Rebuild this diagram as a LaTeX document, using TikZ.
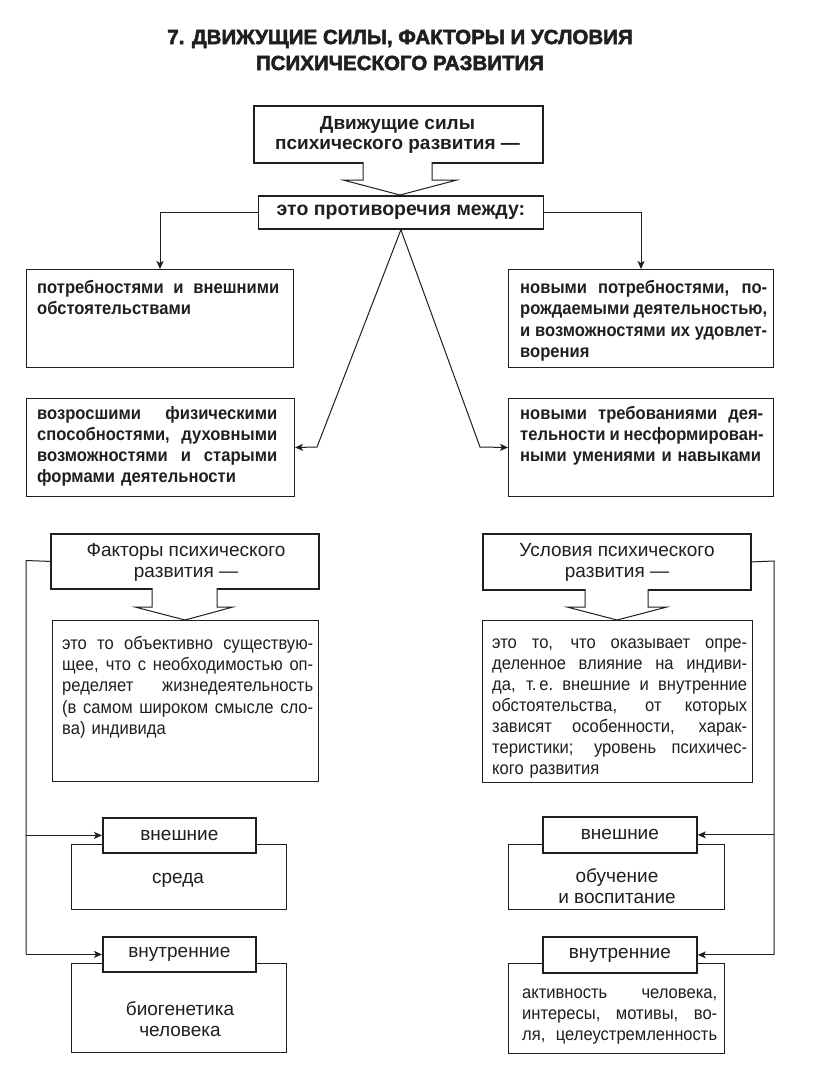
\documentclass[tikz,border=0pt]{standalone}
\usepackage{fontspec}
\setmainfont{Liberation Sans}
\newfontfamily\condfont{Liberation Sans}[FakeStretch=0.92]
\newfontfamily\heavyfont{Liberation Sans Bold}[FakeBold=2.5]
\usetikzlibrary{arrows.meta}
\colorlet{ink}{black!88}
\newcommand\jlbox[1]{\leavevmode\hbox to \hsize{\spaceskip=0.27em plus 1fil minus 0.05em\xspaceskip=\spaceskip #1}}
\newcommand\jl[1]{\jlbox{#1}\\}
\tikzset{
  box/.style={draw=ink, line width=1pt, fill=white, rectangle, inner sep=0pt, anchor=north west},
  hbox/.style={box, line width=1.8pt},
  txt/.style={inner sep=0pt, anchor=north west, align=left, text=ink,
    font=\condfont\fontsize{18}{21.3}\selectfont, execute at begin node=\strut},
  btxtl/.style={txt, font=\condfont\fontsize{18}{21.5}\selectfont\bfseries},
  ctxt/.style={inner sep=0pt, align=center, text=ink, font=\fontsize{19}{21}\selectfont},
  btxt/.style={ctxt, font=\fontsize{19}{20}\selectfont\bfseries},
  conn/.style={draw=ink, line width=1pt},
  arr/.style={conn, -{Stealth[length=8pt,width=7pt,inset=2pt]}},
  barrow/.style={draw=ink, line width=1pt, fill=white, line join=miter}
}
\begin{document}
\begin{tikzpicture}[x=1pt, y=-1pt]
\useasboundingbox (0,0) rectangle (816,1065);
\fill[white] (0,0) rectangle (816,1065);

% title
\node[inner sep=0pt, align=center, text=ink, font=\fontsize{20.5}{26}\selectfont\heavyfont] (title) at (400,50)
  {7. ДВИЖУЩИЕ СИЛЫ, ФАКТОРЫ И УСЛОВИЯ\\ПСИХИЧЕСКОГО РАЗВИТИЯ};

% driving forces
\node[hbox, minimum width=289pt, minimum height=57pt] (ds) at (253,105) {};
\node[btxt] (dst) at (397.5,135) {Движущие силы\\психического развития —};
\draw[barrow] (363,162) -- (363,180) -- (343,180) -- (400,195) -- (457,180) -- (432,180) -- (432,162);
\node[hbox, minimum width=285pt, minimum height=33pt] (pr) at (257.5,195) {};
\node[btxt, font=\fontsize{19.5}{20}\selectfont\bfseries] (prt) at (pr.center) {это противоречия между:};

\node[box, minimum width=267pt, minimum height=98pt] (b1) at (26,269) {};
\node[btxtl, text width=242pt] (b1t) at (37,278)
  {\jl{потребностями и внешними}обстоятельствами};
\node[box, minimum width=265pt, minimum height=98pt] (b2) at (508,269) {};
\node[btxtl, text width=247pt] (b2t) at (520,278)
  {\jl{новыми потребностями, по-}\jl{рождаемыми деятельностью,}\jl{и возможностями их удовлет-}ворения};
\node[box, minimum width=268pt, minimum height=98pt] (b3) at (26,398) {};
\node[btxtl, text width=240pt, font=\condfont\fontsize{18}{21}\selectfont\bfseries] (b3t) at (37,405)
  {\jl{возросшими физическими}\jl{способностями, духовными}\jl{возможностями и старыми}формами деятельности};
\node[box, minimum width=265pt, minimum height=98pt] (b4) at (508,398) {};
\node[btxtl, text width=243pt, font=\condfont\fontsize{18}{21}\selectfont\bfseries] (b4t) at (520,405)
  {\jl{новыми требованиями дея-}\jl{тельности и несформирован-}ными умениями и навыками};

\coordinate (vl) at (317,447);
\coordinate (vr) at (480,447);
\draw[arr] (pr.west) -| (b1.north);
\draw[arr] (pr.east) -| (b2.north);
\draw[arr] (pr.south) -- (vl) -- (b3.east);
\draw[arr] (pr.south) -- (vr) -- (b4.west);

% factors
\node[hbox, minimum width=268pt, minimum height=55pt] (fh) at (50,533) {};
\node[ctxt] (fht) at (186,562) {Факторы психического\\развития —};
\draw[barrow] (152,588) -- (152,607) -- (135,607) -- (185,620) -- (233,607) -- (217,607) -- (217,588);
\node[box, minimum width=266pt, minimum height=161pt] (fb) at (52,620) {};
\node[txt, text width=251pt] (fbt) at (62,634)
  {\jl{это то объективно существую-}\jl{щее, что с необходимостью оп-}\jl{ределяет жизнедеятельность}\jl{(в самом широком смысле сло-}ва) индивида};

% conditions
\node[hbox, minimum width=268pt, minimum height=56pt] (ch) at (482,533) {};
\node[ctxt] (cht) at (617,562) {Условия психического\\развития —};
\draw[barrow] (585,589) -- (585,607) -- (567,607) -- (617,620) -- (667,607) -- (648,607) -- (648,589);
\node[box, minimum width=270pt, minimum height=162pt] (cb) at (482,620) {};
\node[txt, text width=255pt, font=\condfont\fontsize{18}{21}\selectfont] (cbt) at (492,634)
  {\jl{это то, что оказывает опре-}\jl{деленное влияние на индиви-}\jl{да, т.\,е. внешние и внутренние}\jl{обстоятельства, от которых}\jl{зависят особенности, харак-}\jl{теристики; уровень психичес-}кого развития};

% left lower
\node[box, minimum width=215pt, minimum height=65pt] (fs) at (71,844) {};
\node[ctxt] (fst) at (178,880) {среда};
\node[hbox, minimum width=153pt, minimum height=35pt] (fe) at (102,817) {};
\node[ctxt] (fet) at (fe.center) {внешние};
\node[box, minimum width=215pt, minimum height=89pt] (fg) at (71,963) {};
\node[ctxt] (fgt) at (180,1019) {биогенетика\\человека};
\node[hbox, minimum width=153pt, minimum height=35pt] (fi) at (102,936) {};
\node[ctxt] (fit) at (fi.center) {внутренние};

% right lower
\node[box, minimum width=216pt, minimum height=65pt] (co) at (508,844) {};
\node[ctxt] (cot) at (617,886) {обучение\\и воспитание};
\node[hbox, minimum width=154pt, minimum height=36pt] (ce) at (542,816) {};
\node[ctxt] (cet) at (ce.center) {внешние};
\node[box, minimum width=216pt, minimum height=90pt] (ca) at (508,963) {};
\node[txt, text width=195pt] (cat) at (522,983)
  {\jl{активность человека,}\jl{интересы, мотивы, во-}\jlbox{ля, целеустремленность}};
\node[hbox, minimum width=154pt, minimum height=36pt] (ci) at (542,936) {};
\node[ctxt] (cit) at (ci.center) {внутренние};

% trunks
\coordinate (lt) at (26,560.5);
\coordinate (rt) at (774,561);
\draw[conn] (fh.west) -- (lt) -- (lt |- fi.west);
\draw[arr] (lt |- fe.west) -- (fe.west);
\draw[arr] (lt |- fi.west) -- (fi.west);
\draw[conn] (ch.east) -- (rt) -- (rt |- ci.east);
\draw[arr] (rt |- ce.east) -- (ce.east);
\draw[arr] (rt |- ci.east) -- (ci.east);
\end{tikzpicture}
\end{document}
